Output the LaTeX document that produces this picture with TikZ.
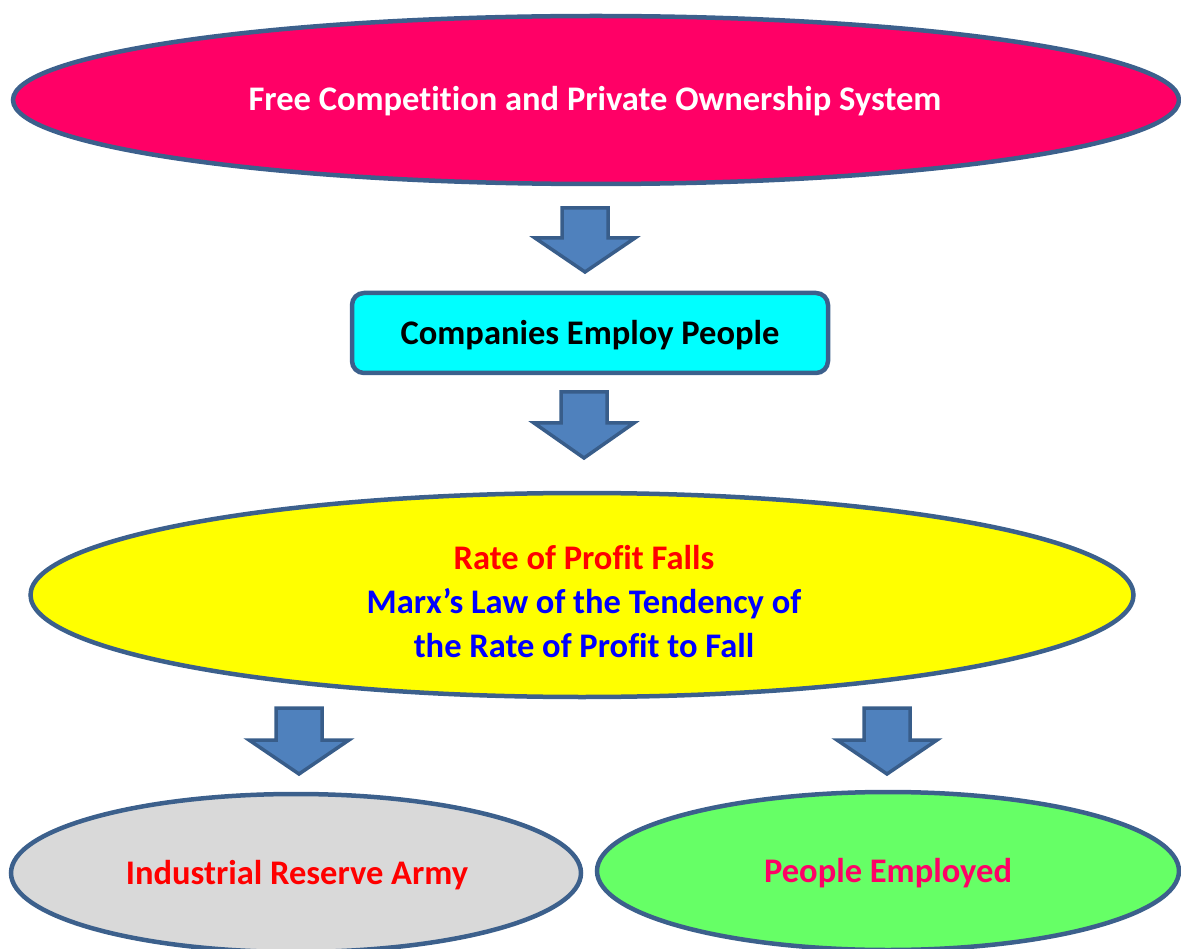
\documentclass[tikz,border=0pt]{standalone}
\usepackage{fontspec}
\setmainfont{Carlito}[Ligatures={NoCommon}]
\usetikzlibrary{shapes.geometric}
\definecolor{bordc}{RGB}{60,96,140}
\definecolor{arrfill}{RGB}{79,129,189}
\definecolor{arrbord}{RGB}{56,93,138}
\definecolor{topfill}{RGB}{255,0,102}
\definecolor{grayfill}{RGB}{217,217,217}
\definecolor{greenfill}{RGB}{102,255,102}
\definecolor{cyanfill}{RGB}{0,255,255}
\definecolor{yellowfill}{RGB}{255,255,0}
\definecolor{redtext}{RGB}{255,0,0}
\definecolor{bluetext}{RGB}{0,0,255}
\definecolor{pinktext}{RGB}{255,0,102}
\tikzset{
  oval/.style={ellipse, draw=bordc, line width=4.5pt, inner sep=0pt},
  boxnode/.style={rectangle, rounded corners=12pt, draw=bordc, line width=4.5pt, inner sep=0pt},
  txt/.style={font=\fontsize{34.5}{44}\selectfont\bfseries, align=center, inner sep=0pt},
  blockarrow/.style={fill=arrfill, draw=arrbord, line width=3.5pt, line join=miter},
}
\newcommand{\downarrowblock}[4]{% #1 x center, #2 top y, #3 head y, #4 tip y
  \draw[blockarrow] (#1-23,#2) -- (#1+23,#2) -- (#1+23,#3) -- (#1+50,#3) -- (#1,#4) -- (#1-50,#3) -- (#1-23,#3) -- cycle;
}
\begin{document}
\begin{tikzpicture}[x=1pt,y=-1pt]
\useasboundingbox (0,0) rectangle (1181,949);
\node[oval, fill=topfill, minimum width=1166pt, minimum height=168pt] (top) at (596,100) {};
\node[txt, text=white] (toptext) at (595,101) {Free Competition and Private Ownership System};

\downarrowblock{585}{208}{238}{272}

\node[boxnode, fill=cyanfill, minimum width=476pt, minimum height=80pt] (box) at (590,333) {};
\node[txt, text=black] (boxtext) at (590,335) {Companies Employ People};

\downarrowblock{584}{392}{423}{458}

\node[oval, fill=yellowfill, minimum width=1103pt, minimum height=204pt] (mid) at (582,595) {};
\node[txt] (midtext) at (584,602) {\textcolor{redtext}{Rate of Profit Falls}\\\textcolor{bluetext}{Marx’s Law of the Tendency of}\\\textcolor{bluetext}{the Rate of Profit to Fall}};

\downarrowblock{299}{708}{740}{774}
\downarrowblock{887}{708}{740}{774}

\node[oval, fill=grayfill, minimum width=570pt, minimum height=158pt] (left) at (296,873) {};
\node[txt, text=redtext] (lefttext) at (297,875) {Industrial Reserve Army};

\node[oval, fill=greenfill, minimum width=582pt, minimum height=158pt] (right) at (888,871) {};
\node[txt, text=pinktext] (righttext) at (888,873) {People Employed};
\end{tikzpicture}
\end{document}
